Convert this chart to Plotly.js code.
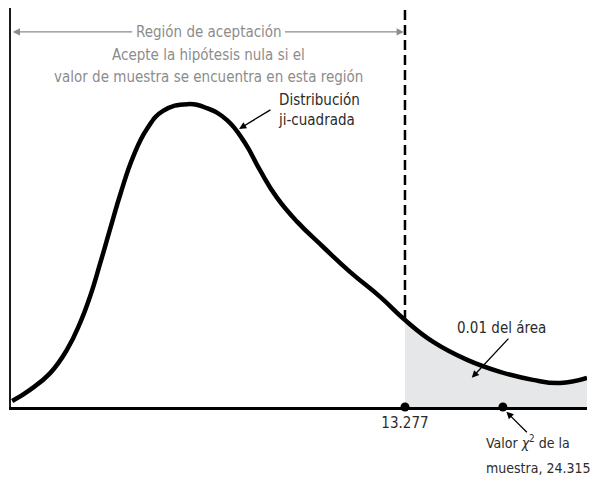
<!DOCTYPE html>
<html lang="es">
<head>
    <meta charset="UTF-8">
    <script src="https://cdn.plot.ly/plotly-3.0.1.min.js"></script>
    <style>
        html, body, #plot {
            width: 593px;
            height: 477px;
            margin: 0;
            padding: 0;
            overflow: hidden;
            background: #ffffff;
        }
    </style>
</head>
<body>
<div id="plot"></div>
<script>
    // curve (relative units, x 0..100, y 0..100); the sketch is not to scale
    const curveX = [0.2, 3.3, 6.8, 9.7, 12.0, 13.7, 15.5, 17.2, 19.1, 21.2, 23.6, 26.4, 30.6, 34.0, 37.5, 40.6, 43.2, 46.2, 49.7, 54.2, 58.9, 64.1, 68.4, 73.3, 79.2, 84.9, 90.6, 95.3, 100];
    const curveY = [1.5, 4.3, 8.5, 14.3, 21.1, 27.6, 36.1, 44.6, 53.9, 62.7, 69.7, 74.2, 75.9, 74.9, 71.9, 66.2, 59.4, 52.4, 46.4, 40.1, 33.8, 27.6, 21.8, 16.3, 11.8, 8.8, 6.8, 6.0, 7.3];

    const critX = 68.4;       // position of the critical value
    const critLabel = '13.277';
    const sampleX = 85.4;     // position of the sample value
    const sampleLabel = '24.315';

    const font = '"Liberation Sans Narrow", "DejaVu Sans Condensed", Arial, sans-serif';
    const grey = '#8c8c8c';
    const dark = '#2b2b2b';
    const fsize = 15;

    // area right of the critical value
    const tailX = curveX.filter(v => v >= critX);
    const tailY = curveY.slice(curveX.length - tailX.length);

    const traceTail = {
        x: tailX,
        y: tailY,
        type: 'scatter',
        mode: 'lines',
        fill: 'tozeroy',
        fillcolor: '#e6e7e8',
        line: {width: 0, shape: 'spline', smoothing: 1.3, color: 'rgba(0,0,0,0)'},
        hoverinfo: 'skip'
    };

    const traceCurve = {
        x: curveX,
        y: curveY,
        type: 'scatter',
        mode: 'lines',
        line: {color: '#000000', width: 4.5, shape: 'spline', smoothing: 1.3},
        hoverinfo: 'skip'
    };

    const tracePoints = {
        x: [critX, sampleX],
        y: [0, 0],
        type: 'scatter',
        mode: 'markers',
        marker: {color: '#000000', size: 9},
        cliponaxis: false,
        hoverinfo: 'skip'
    };

    const layout = {
        width: 593,
        height: 477,
        margin: {l: 11, r: 6, t: 8, b: 70, pad: 0},
        paper_bgcolor: '#ffffff',
        plot_bgcolor: '#ffffff',
        showlegend: false,
        font: {family: font, size: fsize, color: dark},
        xaxis: {
            range: [0, 100],
            showgrid: false,
            zeroline: false,
            showline: true,
            linecolor: '#000000',
            linewidth: 2.5,
            ticks: '',
            tickvals: [critX],
            ticktext: [critLabel],
            tickfont: {family: font, size: fsize, color: dark},
            fixedrange: true
        },
        yaxis: {
            range: [0, 100],
            showgrid: false,
            zeroline: false,
            showline: true,
            linecolor: '#1a1a1a',
            linewidth: 2,
            showticklabels: false,
            ticks: '',
            fixedrange: true
        },
        shapes: [
            {
                type: 'line',
                x0: critX, x1: critX,
                y0: curveY[curveX.indexOf(critX)], y1: 100,
                line: {color: '#000000', width: 2.5, dash: '10px,5px'}
            }
        ],
        annotations: [
            // acceptance region arrows
            {x: 0.3, y: 94, ax: 21.3, ay: 94, xref: 'x', yref: 'y', axref: 'x', ayref: 'y',
             text: '', showarrow: true, arrowhead: 2, arrowsize: 1.2, arrowwidth: 1.2, arrowcolor: grey},
            {x: critX - 0.2, y: 94, ax: 47.3, ay: 94, xref: 'x', yref: 'y', axref: 'x', ayref: 'y',
             text: '', showarrow: true, arrowhead: 2, arrowsize: 1.2, arrowwidth: 1.2, arrowcolor: grey},
            {x: 34.3, y: 94, xref: 'x', yref: 'y', text: 'Región de aceptación', showarrow: false,
             font: {family: font, size: fsize, color: grey}},
            {x: 34.3, y: 88.2, xref: 'x', yref: 'y', text: 'Acepte la hipótesis nula si el', showarrow: false,
             font: {family: font, size: fsize, color: grey}},
            {x: 34.3, y: 82.7, xref: 'x', yref: 'y', text: 'valor de muestra se encuentra en esta región', showarrow: false,
             font: {family: font, size: fsize, color: grey}},
            // curve label
            {x: 46.0, y: 74.4, xref: 'x', yref: 'y', xanchor: 'left', text: 'Distribución<br>ji-cuadrada',
             align: 'left', showarrow: false, font: {family: font, size: fsize, color: dark}},
            {x: 39.6, y: 69.7, ax: 45.3, ay: 74.7, xref: 'x', yref: 'y', axref: 'x', ayref: 'y',
             text: '', showarrow: true, arrowhead: 2, arrowsize: 1.1, arrowwidth: 1.3, arrowcolor: '#000000'},
            // tail area label
            {x: 85.2, y: 19.8, xref: 'x', yref: 'y', text: '0.01 del área', showarrow: false,
             font: {family: font, size: fsize, color: dark}},
            {x: 80.0, y: 7.3, ax: 86.6, ay: 17.5, xref: 'x', yref: 'y', axref: 'x', ayref: 'y',
             text: '', showarrow: true, arrowhead: 2, arrowsize: 1.1, arrowwidth: 1.3, arrowcolor: '#000000'},
            // sample value label, below the axis
            {x: 82.2, y: -0.088, xref: 'x', yref: 'paper', xanchor: 'left', yanchor: 'middle',
             text: 'Valor <i>χ</i><sup>2</sup> de la', showarrow: false,
             font: {family: font, size: 14, color: dark}},
            {x: 82.2, y: -0.152, xref: 'x', yref: 'paper', xanchor: 'left', yanchor: 'middle',
             text: 'muestra, ' + sampleLabel, showarrow: false,
             font: {family: font, size: 14, color: dark}},
            {x: sampleX + 0.6, y: -0.012, ax: 22, ay: 22, xref: 'x', yref: 'paper',
             text: '', showarrow: true, arrowhead: 2, arrowsize: 1.1, arrowwidth: 1.3, arrowcolor: '#000000'}
        ]
    };

    Plotly.newPlot('plot', [traceTail, traceCurve, tracePoints], layout, {displayModeBar: false, staticPlot: true});
</script>
</body>
</html>
